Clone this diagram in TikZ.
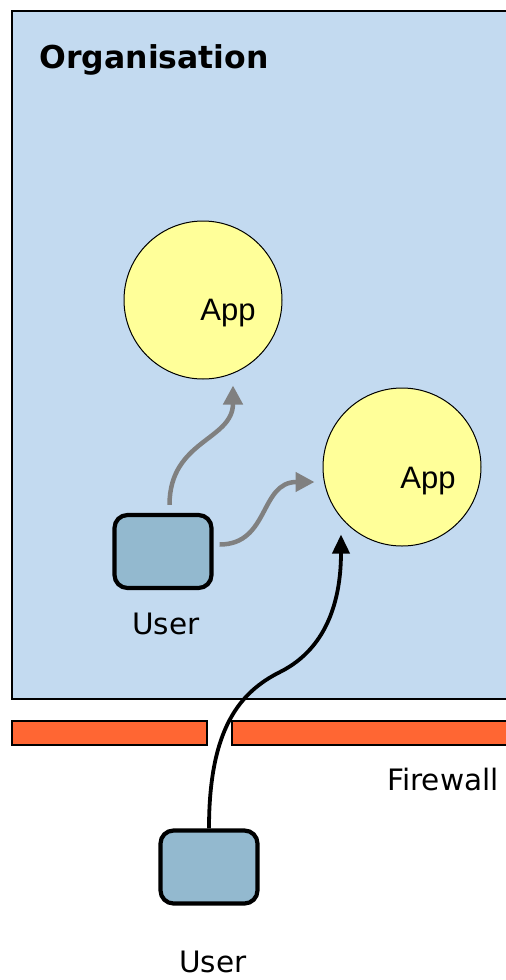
\documentclass[tikz,border=0pt]{standalone}
\usepackage{fontspec}
\setmainfont{DejaVu Sans}
\newfontfamily\appfont{Liberation Sans}
\usetikzlibrary{arrows.meta}
\definecolor{orgblue}{HTML}{C3DAF0}
\definecolor{appyellow}{HTML}{FFFF99}
\definecolor{userblue}{HTML}{93B9CF}
\definecolor{fwred}{HTML}{FF6633}
\definecolor{flowgray}{HTML}{808080}
\tikzset{
  orgbox/.style={draw=black, line width=1.8pt, fill=orgblue},
  fwbar/.style={draw=black, line width=1.8pt, fill=fwred},
  appnode/.style={circle, draw=black, line width=1pt, fill=appyellow, minimum size=158pt, inner sep=0pt},
  apptext/.style={font=\appfont\fontsize{31}{36}\selectfont},
  usernode/.style={rectangle, rounded corners=13pt, draw=black, line width=4.2pt, fill=userblue, minimum width=97pt, minimum height=73pt},
  lbl/.style={font=\fontsize{29.5}{34}\selectfont},
  grayflow/.style={draw=flowgray, line width=4.5pt, -{Triangle[length=19pt,width=19pt]}},
  blackflow/.style={draw=black, line width=3.8pt, -{Triangle[length=19pt,width=17pt]}},
}
\begin{document}
\begin{tikzpicture}[x=1pt,y=-1pt]
\useasboundingbox (0,0) rectangle (506,980);
% organisation
\filldraw[orgbox] (12,11) rectangle (520,699);
\node[anchor=west, font=\bfseries\fontsize{31.5}{36}\selectfont] (org) at (36,60) {Organisation};
% firewall
\filldraw[fwbar] (12,721) rectangle (207,745);
\filldraw[fwbar] (232,721) rectangle (520,745);
\node[lbl] (fw) at (443,779) {Firewall};
% apps
\node[appnode] (a1) at (203,300) {};
\node[apptext] (a1t) at (228,313) {App};
\node[appnode] (a2) at (402,467) {};
\node[apptext] (a2t) at (428,481) {App};
% users
\node[usernode] (u1) at (163,551.5) {};
\node[lbl] (u1l) at (166,624) {User};
\node[usernode] (u2) at (209,867) {};
\node[lbl] (u2l) at (213,962) {User};
% flows
\coordinate (g1s) at ([xshift=6.5pt,yshift=8pt]u1.north);
\coordinate (g1e) at ([xshift=30pt,yshift=-6pt]a1.south);
\draw[grayflow] (g1s) .. controls ++(0,-65) and ++(0,55) .. (g1e);
\coordinate (g2s) at ([xshift=6pt,yshift=7pt]u1.east);
\coordinate (g2e) at ([xshift=-8pt,yshift=-15pt]a2.west);
\draw[grayflow] (g2s) .. controls ++(50,0) and ++(-55,0) .. (g2e);
\coordinate (bm) at (280,672);
\coordinate (be) at ([xshift=-61pt,yshift=12pt]a2.south);
\draw[blackflow] (u2.north) .. controls ++(0,-100) and ++(-40,20) .. (bm)
  .. controls ++(50,-25) and ++(0,60) .. (be);
\end{tikzpicture}
\end{document}
